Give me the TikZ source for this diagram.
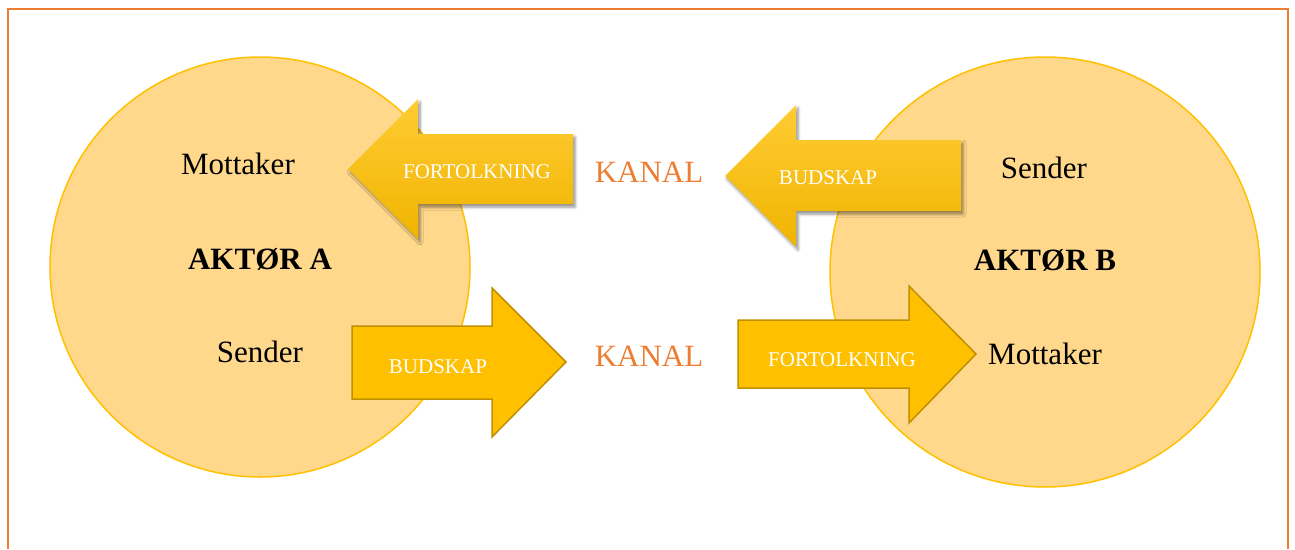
\documentclass[tikz,border=0pt]{standalone}
\usepackage{fontspec}
\setmainfont{Liberation Serif}
\usetikzlibrary{shadows.blur}
\definecolor{ramme}{RGB}{237,125,49}
\definecolor{sirkel}{RGB}{255,216,140}
\definecolor{gull}{RGB}{255,192,0}
\definecolor{morkgull}{RGB}{191,144,0}
\definecolor{lysgull}{RGB}{255,204,52}
\definecolor{dypgull}{RGB}{240,180,0}
\tikzset{%
    tekst/.style={font=\fontsize{31}{36}\selectfont, inner sep=0pt},
    piltekst/.style={font=\fontsize{21}{25}\selectfont, text=white, inner sep=0pt}
}

\begin{document}
\begin{tikzpicture}[x=1pt,y=-1pt,
  aktor/.style={circle,draw=gull,line width=1.5pt,fill=sirkel,minimum size=#1},
  pil topp/.style={top color=lysgull,bottom color=dypgull,
    blur shadow={shadow xshift=2pt,shadow yshift=-3pt,shadow blur radius=3pt,shadow opacity=45}},
  pil bunn/.style={fill=gull,draw=morkgull,line width=1.5pt,line join=miter}]

  \useasboundingbox (0,0) rectangle (1295,549);
  \draw[ramme,line width=2pt] (8,549) -- (8,9) -- (1288,9) -- (1288,549);

  \node[aktor=420pt] (A) at (260,267) {};
  \node[aktor=430pt] (B) at (1045,272) {};

  % pilene
  \path[pil topp] (348,169) -- (418,99) -- (418,134) -- (573,134) -- (573,204)
    -- (418,204) -- (418,239) -- cycle;
  \path[pil topp] (725,176) -- (796,105) -- (796,140) -- (961,140) -- (961,211)
    -- (796,211) -- (796,247) -- cycle;
  \draw[pil bunn] (566,362) -- (492,288) -- (492,326) -- (352,326) -- (352,399)
    -- (492,399) -- (492,437) -- cycle;
  \draw[pil bunn] (976,354) -- (909,286) -- (909,320) -- (738,320) -- (738,388)
    -- (909,388) -- (909,423) -- cycle;

  \node[piltekst] (fortA) at (477,172) {FORTOLKNING};
  \node[piltekst] (budB) at (828,178) {BUDSKAP};
  \node[piltekst] (budA) at (438,367) {BUDSKAP};
  \node[piltekst] (fortB) at (842,360) {FORTOLKNING};

  \node[tekst] (mottA) at (238,164) {Mottaker};
  \node[tekst,font=\fontsize{31}{36}\selectfont\bfseries] (navnA) at (260,259) {AKTØR A};
  \node[tekst] (sendA) at (260,352) {Sender};

  \node[tekst,text=ramme] (kanal1) at (649,172) {KANAL};
  \node[tekst,text=ramme] (kanal2) at (649,356) {KANAL};

  \node[tekst] (sendB) at (1044,168) {Sender};
  \node[tekst,font=\fontsize{31}{36}\selectfont\bfseries] (navnB) at (1045,260) {AKTØR B};
  \node[tekst] (mottB) at (1045,354) {Mottaker};
\end{tikzpicture}
\end{document}
